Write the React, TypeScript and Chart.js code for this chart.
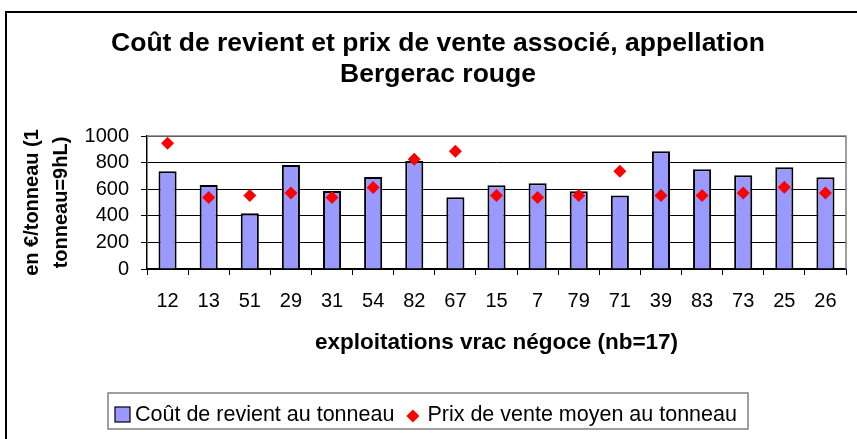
import React, { useEffect, useRef } from 'react';
import { Chart, registerables } from 'chart.js';

Chart.register(...registerables);

const categories = ['12', '13', '51', '29', '31', '54', '82', '67', '15', '7', '79', '71', '39', '83', '73', '25', '26'];
const coutRevient = [735, 632, 420, 782, 587, 692, 812, 540, 630, 645, 585, 553, 885, 750, 705, 765, 690];
const prixVente = [945, 537, 552, 572, 537, 612, 825, 885, 552, 537, 552, 735, 552, 552, 572, 615, 572];
const yTicks = [0, 200, 400, 600, 800, 1000];
const titleLines = ['Coût de revient et prix de vente associé, appellation', 'Bergerac rouge'];
const seriesLabels = ['Coût de revient au tonneau', 'Prix de vente moyen au tonneau'];
const xTitle = 'exploitations vrac négoce (nb=17)';
const yTitle = ['en €/tonneau (1', 'tonneau=9hL)'];

const FONT = "'Liberation Sans', Arial, sans-serif";
const BAR_COLOR = '#9999FF';
const POINT_COLOR = '#FF0000';

const decorPlugin = {
  id: 'decor',
  beforeDraw(chart: any) {
    const ctx = chart.ctx;
    ctx.save();
    ctx.fillStyle = '#ffffff';
    ctx.fillRect(0, 0, chart.width, chart.height);
    ctx.strokeStyle = '#000000';
    ctx.lineWidth = 2;
    ctx.strokeRect(6, 12, chart.width + 40, chart.height + 40);
    ctx.restore();
  },
  beforeDatasetsDraw(chart: any) {
    const { ctx, chartArea } = chart;
    ctx.save();
    ctx.strokeStyle = '#808080';
    ctx.lineWidth = 1.5;
    ctx.beginPath();
    ctx.moveTo(chartArea.left, chartArea.top);
    ctx.lineTo(chartArea.right, chartArea.top);
    ctx.lineTo(chartArea.right, chartArea.bottom);
    ctx.stroke();
    ctx.restore();
  },
  afterDraw(chart: any) {
    const ctx = chart.ctx;
    ctx.save();
    // Title
    ctx.fillStyle = '#000000';
    ctx.font = `bold 26.5px ${FONT}`;
    ctx.textAlign = 'center';
    ctx.textBaseline = 'alphabetic';
    ctx.fillText(titleLines[0], 438, 51);
    ctx.fillText(titleLines[1], 438, 82);

    // Legend
    const ds = chart.data.datasets;
    ctx.strokeStyle = '#808080';
    ctx.lineWidth = 1.5;
    ctx.strokeRect(108, 393, 640, 36);
    ctx.fillStyle = ds[0].backgroundColor;
    ctx.fillRect(115, 407, 15, 15);
    ctx.strokeStyle = '#000000';
    ctx.lineWidth = 1.2;
    ctx.strokeRect(115, 407, 15, 15);
    ctx.font = `21.5px ${FONT}`;
    ctx.textAlign = 'left';
    ctx.fillStyle = '#000000';
    ctx.fillText(ds[0].label, 135, 421);
    const w1 = ctx.measureText(ds[0].label).width;
    const dx = 135 + w1 + 18.5;
    const dy = 416;
    const r = 6.5;
    ctx.fillStyle = ds[1].backgroundColor;
    ctx.beginPath();
    ctx.moveTo(dx, dy - r);
    ctx.lineTo(dx + r, dy);
    ctx.lineTo(dx, dy + r);
    ctx.lineTo(dx - r, dy);
    ctx.closePath();
    ctx.fill();
    ctx.fillStyle = '#000000';
    ctx.fillText(ds[1].label, 135 + w1 + 33, 421);
    ctx.restore();
  },
};

export default function App() {
  const canvasRef = useRef<HTMLCanvasElement | null>(null);

  useEffect(() => {
    const canvas = canvasRef.current;
    if (!canvas) return;
    const chart = new Chart(canvas, {
      type: 'bar',
      data: {
        labels: categories,
        datasets: [
          {
            type: 'bar',
            label: seriesLabels[0],
            data: coutRevient,
            backgroundColor: BAR_COLOR,
            borderColor: '#000000',
            borderWidth: 2,
            barPercentage: 0.44,
            categoryPercentage: 1,
            order: 1,
          } as any,
          {
            type: 'line',
            label: seriesLabels[1],
            data: prixVente,
            showLine: false,
            pointStyle: 'rectRot',
            pointRadius: 6.5,
            pointHoverRadius: 6.5,
            backgroundColor: POINT_COLOR,
            borderColor: POINT_COLOR,
            pointBorderWidth: 0,
            order: 0,
          } as any,
        ],
      },
      options: {
        responsive: false,
        animation: false,
        events: [],
        layout: { padding: { top: 136, left: 0, right: 11, bottom: 80 } },
        plugins: {
          legend: { display: false },
          title: { display: false },
          tooltip: { enabled: false },
        },
        scales: {
          x: {
            type: 'category',
            offset: true,
            afterFit: (s: any) => {
              s.height = 90;
            },
            grid: {
              display: true,
              drawOnChartArea: false,
              drawTicks: true,
              tickLength: 6,
              offset: true,
              color: '#000000',
              lineWidth: 1,
            },
            border: { display: true, color: '#000000', width: 1.5 },
            ticks: {
              color: '#000000',
              font: { family: FONT, size: 20 },
              padding: 14,
              maxRotation: 0,
              autoSkip: false,
            },
            title: {
              display: true,
              text: xTitle,
              color: '#000000',
              font: { family: FONT, size: 22.5, weight: 'bold' },
              padding: { top: 0, bottom: 3 },
            },
          },
          y: {
            type: 'linear',
            min: 0,
            max: 1000,
            afterBuildTicks: (s: any) => {
              s.ticks = yTicks.map((v) => ({ value: v }));
            },
            afterFit: (s: any) => {
              s.width = 147;
            },
            grid: {
              color: '#000000',
              lineWidth: 1,
              drawTicks: true,
              tickLength: 6,
            },
            border: { display: true, color: '#000000', width: 1.5 },
            ticks: {
              color: '#000000',
              font: { family: FONT, size: 20 },
              padding: 12,
              autoSkip: false,
              callback: (v: any) => String(v),
            },
            title: {
              display: true,
              text: yTitle,
              color: '#000000',
              font: { family: FONT, size: 20, weight: 'bold', lineHeight: '29px' },
              padding: { top: 17.5, bottom: 0 },
            },
          },
        },
      } as any,
      plugins: [decorPlugin],
    });
    return () => chart.destroy();
  }, []);

  return (
    <div style={{ position: 'fixed', left: 0, top: 0, width: 857, height: 439, background: '#fff' }}>
      <canvas ref={canvasRef} width={857} height={439} style={{ display: 'block', width: 857, height: 439 }} />
    </div>
  );
}
